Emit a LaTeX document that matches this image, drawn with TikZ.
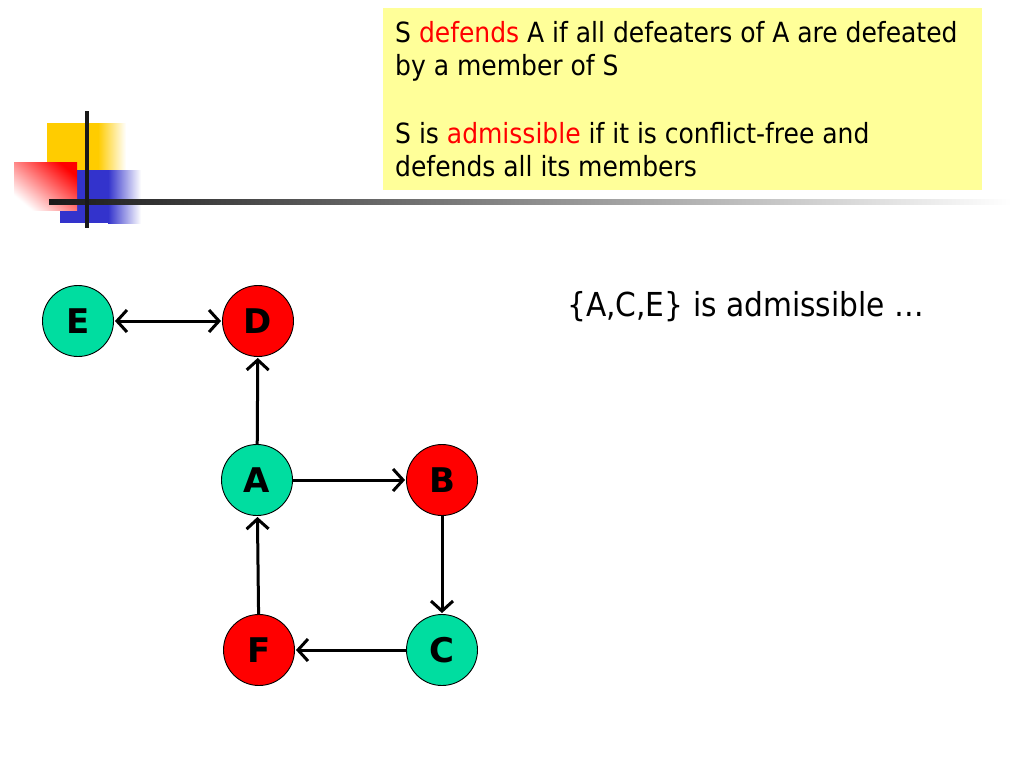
\documentclass[tikz,border=0pt]{standalone}
\usepackage{fontspec}
\setmainfont{DejaVu Sans Condensed}
\newfontfamily\boldlabel{DejaVu Sans}
\usetikzlibrary{arrows.meta}
\definecolor{boxyellow}{RGB}{255,255,153}
\definecolor{argreen}{RGB}{0,221,160}
\definecolor{argred}{RGB}{255,0,0}
\definecolor{decoyellow}{RGB}{255,204,0}
\definecolor{decoblue}{RGB}{51,51,204}
\tikzset{
  arg/.style={circle, draw=black, line width=0.9pt, minimum size=71pt, inner sep=0pt,
    font=\boldlabel\bfseries\fontsize{34}{34}\selectfont},
  yes/.style={arg, fill=argreen},
  no/.style={arg, fill=argred},
  att/.style={line width=3pt, shorten >=1pt, arrows={-Straight Barb[length=10pt,width=22pt,line width=3pt]}},
  attboth/.style={line width=3pt, shorten >=1pt, shorten <=1pt, arrows={Straight Barb[length=10pt,width=22pt,line width=3pt]-Straight Barb[length=10pt,width=22pt,line width=3pt]}},
  boxtext/.style={anchor=base west, inner sep=0pt, font=\fontsize{27.8}{27.8}\selectfont},
}
\begin{document}
\begin{tikzpicture}[x=1pt,y=-1pt]
\useasboundingbox[fill=white] (0,0) rectangle (1024,768);
% decoration
\fill[decoyellow] (47,123) rectangle (98,172);
\shade[left color=decoyellow, right color=white] (98,123) rectangle (126,172);
\fill[decoblue] (60,170) rectangle (108,223);
\shade[left color=decoblue, right color=white] (108,170) rectangle (141,223);
\shade[shading=axis, top color=argred, bottom color=white, shading angle=-40] (14,162) rectangle (77,210);
\shade[left color=black!90, right color=white, middle color=black!45] (49,199) rectangle (1012,204);
\fill[black!90] (85,111) rectangle (89,228);
% yellow box
\fill[boxyellow] (383,8) rectangle (982,190);
\node[boxtext] (t1) at (395,42) {S \textcolor{argred}{defends} A if all defeaters of A are defeated};
\node[boxtext] (t2) at (395,75) {by a member of S};
\node[boxtext] (t3) at (395,143) {S is \textcolor{argred}{admissible} if it is conflict-free and};
\node[boxtext] (t4) at (395,176) {defends all its members};
% statement
\node[boxtext, font=\fontsize{33}{33}\selectfont] (st) at (567,316) {\{A,C,E\} is admissible …};
% graph
\node[yes] (E) at (78,321) {E};
\node[no]  (D) at (258,321) {D};
\node[yes] (A) at (257,480) {A};
\node[no]  (B) at (442,480) {B};
\node[no]  (F) at (259,650) {F};
\node[yes] (C) at (442,650) {C};
\draw[attboth] (E) -- (D);
\draw[att] (A) -- (D);
\draw[att] (A) -- (B);
\draw[att] (B) -- (C);
\draw[att] (C) -- (F);
\draw[att] (F) -- (A);
\end{tikzpicture}
\end{document}
